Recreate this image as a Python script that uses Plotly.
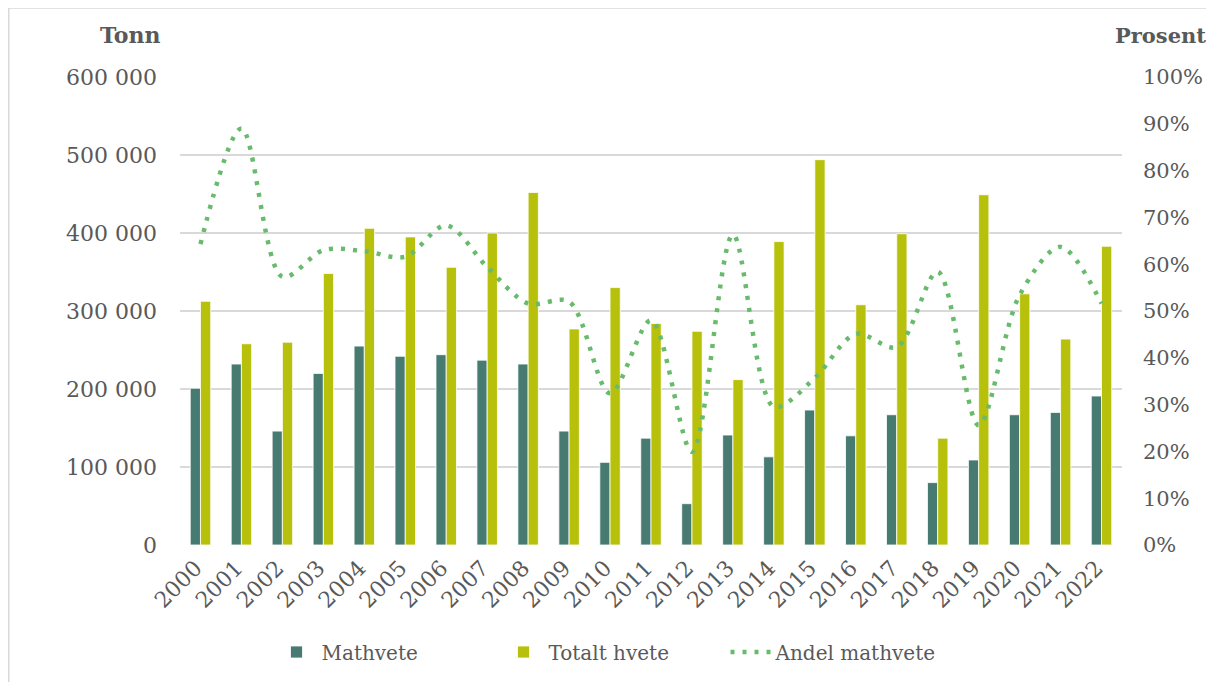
import plotly.graph_objects as go

years = [str(y) for y in range(2000, 2023)]
mathvete = [201000, 232000, 146000, 220000, 255000, 242000, 244000, 237000, 232000, 146000,
            106000, 137000, 53000, 141000, 113000, 173000, 140000, 167000, 80000, 109000,
            167000, 170000, 191000]
totalt = [312500, 258000, 260000, 348000, 406000, 395000, 356000, 400000, 452000, 277000,
          330000, 284000, 274000, 212000, 389000, 494000, 308000, 399000, 137000, 449000,
          322000, 264000, 383000]
andel = [0.643, 0.89, 0.573, 0.63, 0.628, 0.616, 0.683, 0.594, 0.516, 0.52,
         0.324, 0.48, 0.199, 0.663, 0.295, 0.357, 0.451, 0.423, 0.584, 0.256,
         0.534, 0.637, 0.516]

left_ticks = [0, 100000, 200000, 300000, 400000, 500000, 600000]
left_text = ["0", "100 000", "200 000", "300 000", "400 000", "500 000", "600 000"]
right_ticks = [i / 10 for i in range(11)]
right_text = [f"{i*10}%" for i in range(11)]

FONT = "Georgia, 'DejaVu Serif', serif"
GREY = "#595959"

fig = go.Figure()
fig.add_trace(go.Bar(x=years, y=mathvete, name="Mathvete",
                     marker=dict(color="#477b72", line=dict(color="white", width=0.8))))
fig.add_trace(go.Bar(x=years, y=totalt, name="Totalt hvete",
                     marker=dict(color="#b7c00a", line=dict(color="white", width=0.8))))
fig.add_trace(go.Scatter(x=years, y=andel, name="Andel mathvete", yaxis="y2", mode="lines",
                         line=dict(color="#68bb6c", width=4.5, dash="4px,8px",
                                   shape="spline", smoothing=0.9)))

# page has an 8px body margin; figure coords = screen coords - 8
OFF = 8
W, H = 1206, 674
L, T = 180 - OFF, 77 - OFF
R = W - (1122 - OFF)
B = H - (546 - OFF)
pw, ph = W - L - R, H - T - B


def px(xs):
    return (xs - OFF - L) / pw


def py(ys):
    return (H - (ys - OFF) - B) / ph


fig.update_layout(
    width=W, height=H,
    margin=dict(l=L, r=R, t=T, b=B, pad=0),
    paper_bgcolor="white", plot_bgcolor="white",
    font=dict(family=FONT, color=GREY, size=21),
    barmode="group", bargap=0.5, bargroupgap=0,
    showlegend=True,
    legend=dict(orientation="h", x=px(612), xanchor="center",
                y=py(652), yanchor="middle",
                font=dict(size=20, family=FONT, color=GREY), itemwidth=40,
                entrywidth=172, traceorder="normal"),
    xaxis=dict(type="category", tickangle=-45, showgrid=False, showline=False,
               ticks="", tickfont=dict(size=22), zeroline=False, ticksuffix=" "),
    yaxis=dict(range=[0, 600000], tickvals=left_ticks, ticktext=left_text,
               showgrid=True, gridcolor="#d9d9d9", gridwidth=1.5, zeroline=False,
               showline=False, ticks="", ticklabelstandoff=22, tickfont=dict(size=22)),
    yaxis2=dict(range=[0, 1], tickvals=right_ticks, ticktext=right_text, overlaying="y",
                side="right", showgrid=False, zeroline=False, showline=False, ticks="",
                ticklabelstandoff=20, tickfont=dict(size=21)),
    annotations=[
        dict(text="<b>Tonn</b>", xref="paper", yref="paper", x=px(163),
             y=py(35), showarrow=False, xanchor="right", yanchor="middle",
             font=dict(size=22, color=GREY, family=FONT)),
        dict(text="<b>Prosent</b>", xref="paper", yref="paper", x=px(1208),
             y=py(35), showarrow=False, xanchor="right", yanchor="middle",
             font=dict(size=21, color=GREY, family=FONT)),
    ],
    shapes=[
        dict(type="rect", xref="paper", yref="paper",
             x0=px(8.75), x1=px(1220), y0=py(690), y1=py(7.75),
             line=dict(color="#d9d9d9", width=1.5), layer="below"),
    ],
)

fig.write_html("out.html")
